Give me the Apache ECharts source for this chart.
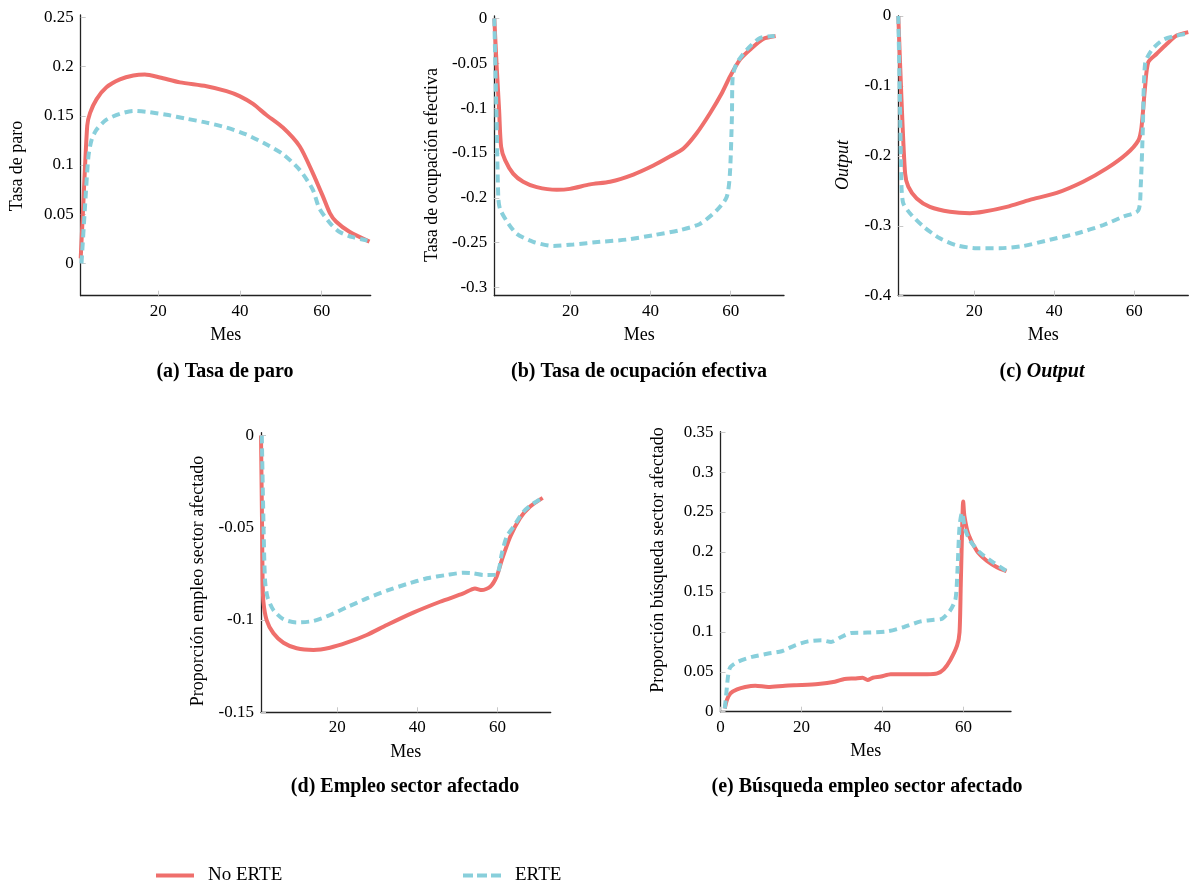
<!DOCTYPE html>
<html><head><meta charset="utf-8">
<script src="https://cdn.jsdelivr.net/npm/echarts@6/dist/echarts.min.js"></script>
<style>html,body{margin:0;padding:0;background:#fff}#c{width:1194px;height:884px}</style>
</head><body><div id="c"></div>
<script>
// ---- tick labels ----
const xTicks = [20, 40, 60];
const xTicksE = [0, 20, 40, 60];
const yTicksA = [0, 0.05, 0.1, 0.15, 0.2, 0.25];
const yTicksB = [-0.3, -0.25, -0.2, -0.15, -0.1, -0.05, 0];
const yTicksC = [-0.4, -0.3, -0.2, -0.1, 0];
const yTicksD = [-0.15, -0.1, -0.05, 0];
const yTicksE = [0, 0.05, 0.1, 0.15, 0.2, 0.25, 0.3, 0.35];

// ---- series: [mes, valor] ----
const aNoErte = [[1,0.005],[1.5,0.048],[2.6,0.14],[3.3,0.153],[4.9,0.167],[7.3,0.179],[10.6,0.187],[13.9,0.191],[16.7,0.192],[20.4,0.189],[25.3,0.184],[31.8,0.18],[36.7,0.175],[39.9,0.17],[43.2,0.162],[46.4,0.151],[50.5,0.138],[54.6,0.119],[57.8,0.092],[60.3,0.068],[62,0.051],[63.5,0.0425],[66.8,0.032],[71.7,0.022]];
const aErte = [[1.2,0],[2.06,0.058],[2.9,0.109],[3.7,0.126],[4.9,0.136],[7.3,0.146],[10.6,0.152],[13.9,0.155],[17.1,0.154],[22,0.151],[26.9,0.147],[31.8,0.143],[36.7,0.138],[41.5,0.131],[46.4,0.121],[50.5,0.111],[54.6,0.095],[57.8,0.075],[59.4,0.056],[61.9,0.0415],[64.3,0.032],[67.6,0.0265],[71.2,0.023]];

const bNoErte = [[1,0],[1.6,-0.054],[2.2,-0.102],[2.7,-0.143],[3.7,-0.158],[5.7,-0.173],[8.2,-0.182],[11.6,-0.188],[16.6,-0.191],[19.9,-0.19],[24.9,-0.185],[29.9,-0.182],[35.7,-0.174],[40.7,-0.164],[44.8,-0.154],[48.2,-0.145],[51.5,-0.128],[54.8,-0.106],[57.7,-0.084],[59.8,-0.065],[62.3,-0.046],[64.8,-0.035],[68.1,-0.023],[71.2,-0.0197]];
const bErte = [[1,0],[1.5,-0.1],[2,-0.2],[2.4,-0.212],[4.1,-0.226],[6.6,-0.24],[10.7,-0.249],[15.7,-0.2535],[20.7,-0.252],[27.4,-0.249],[34,-0.2465],[40.7,-0.2416],[47.3,-0.236],[52.3,-0.229],[56.5,-0.214],[59,-0.199],[59.8,-0.173],[60.3,-0.11],[60.5,-0.065],[61.5,-0.05],[64,-0.035],[67.3,-0.022],[71,-0.0197]];

const cNoErte = [[1,0],[1.8,-0.12],[2.7,-0.225],[3.5,-0.244],[5.6,-0.261],[8.9,-0.273],[13.9,-0.28],[18.9,-0.282],[22.2,-0.28],[28.1,-0.273],[33.9,-0.263],[40.6,-0.253],[47.2,-0.237],[53.1,-0.218],[58.1,-0.197],[61,-0.178],[61.8,-0.159],[62.7,-0.101],[63.5,-0.066],[65.6,-0.054],[68.1,-0.04],[70.6,-0.028],[73.5,-0.023]];
const cErte = [[1,0],[1.4,-0.12],[1.8,-0.244],[2.25,-0.268],[3.9,-0.282],[7.25,-0.301],[11.4,-0.318],[15.6,-0.328],[20.6,-0.332],[26.4,-0.332],[32.2,-0.329],[38.9,-0.32],[45.6,-0.311],[52.2,-0.299],[57.2,-0.287],[61,-0.278],[61.6,-0.244],[62.1,-0.168],[62.7,-0.068],[64.3,-0.049],[67.2,-0.034],[70.6,-0.028],[73.5,-0.025]];

const dNoErte = [[1,0],[1.25,-0.0458],[1.4,-0.0783],[1.6,-0.0901],[2.4,-0.1],[4.1,-0.1072],[6.6,-0.1123],[9.9,-0.1153],[14.1,-0.1162],[18.2,-0.115],[22.4,-0.1123],[27.4,-0.1081],[32.4,-0.1027],[39,-0.096],[45.7,-0.0901],[51.5,-0.0856],[54.4,-0.0829],[56.1,-0.0838],[58.2,-0.082],[59.8,-0.0765],[61.1,-0.0675],[63.2,-0.0549],[65.6,-0.0449],[68.1,-0.0386],[71.3,-0.0338]];
const dErte = [[1.2,0],[1.6,-0.0458],[2,-0.0783],[2.6,-0.0874],[4.1,-0.0946],[6.6,-0.0996],[9.9,-0.1013],[14.1,-0.1005],[18.2,-0.0973],[22.4,-0.0931],[27.4,-0.0883],[32.4,-0.0841],[37.4,-0.0805],[42.4,-0.0774],[47.3,-0.0756],[51.5,-0.0744],[54,-0.0747],[56.5,-0.0756],[59.8,-0.0753],[61.1,-0.0639],[62.3,-0.0549],[64,-0.0495],[66.5,-0.0413],[69,-0.0368],[71.3,-0.0338]];

const eNoErte = [[1.06,0.004],[1.6,0.015],[2.45,0.023],[4.1,0.028],[6.1,0.031],[8.6,0.0326],[11.8,0.031],[15.9,0.0326],[20,0.0334],[24.1,0.0347],[28.2,0.0376],[30.6,0.041],[33.1,0.0417],[35.1,0.0425],[36.3,0.0396],[37.6,0.0425],[39.6,0.044],[42,0.047],[46.1,0.047],[51,0.047],[53.5,0.048],[55.1,0.053],[56.7,0.0645],[58.4,0.083],[59,0.0997],[59.3,0.158],[59.7,0.241],[59.9,0.263],[60.2,0.245],[61.2,0.222],[63.3,0.201],[65.7,0.189],[68.2,0.181],[70.6,0.176]];
const eErte = [[1.06,0.004],[1.4,0.021],[1.9,0.046],[2.45,0.056],[4.5,0.063],[7.8,0.0686],[11.8,0.0728],[15.1,0.0757],[18.4,0.083],[21.6,0.088],[24.9,0.0894],[27.3,0.0873],[29.8,0.0935],[32.2,0.0985],[36.3,0.099],[41.2,0.1006],[45.3,0.106],[49.4,0.113],[52.7,0.115],[54.7,0.1164],[56.7,0.1267],[58,0.141],[58.5,0.178],[59,0.232],[59.6,0.249],[60.4,0.228],[61.6,0.214],[64.1,0.199],[67.3,0.187],[70.6,0.176]];

// ---- styling ----
const FONT = 'Liberation Serif';
const RED = '#EF6F6C';
const CYAN = '#88CFDB';
const TICKFS = 17;

const panels = [
  {grid:{left:80.7, top:15, width:290, height:280.7}, x:[1,72], xt:xTicks, y:[-0.033,0.2525], yt:yTicksA, red:aNoErte, blue:aErte,
   yname:'Tasa de paro', ynx:17, yny:166, italic:false,
   title:'{n|(a) Tasa de paro}', tx:225, ty:362},
  {grid:{left:494.3, top:16, width:289.7, height:279.7}, x:[1,73.3], xt:xTicks, y:[-0.309,0.0026], yt:yTicksB, red:bNoErte, blue:bErte,
   yname:'Tasa de ocupación efectiva', ynx:432, yny:165, italic:false,
   title:'{n|(b) Tasa de ocupación efectiva}', tx:639, ty:362},
  {grid:{left:898.3, top:16, width:290, height:279.7}, x:[1,73.5], xt:xTicks, y:[-0.4,0], yt:yTicksC, red:cNoErte, blue:cErte,
   yname:'Output', ynx:843, yny:165, italic:true,
   title:'{n|(c) }{i|Output}', tx:1042, ty:362},
  {grid:{left:261, top:432.7, width:289.7, height:279.6}, x:[1,73.3], xt:xTicks, y:[-0.15,0.0015], yt:yTicksD, red:dNoErte, blue:dErte,
   yname:'Proporción empleo sector afectado', ynx:198, yny:581, italic:false,
   title:'{n|(d) Empleo sector afectado}', tx:405, ty:777},
  {grid:{left:720.5, top:431.7, width:290.5, height:280}, x:[0,71.7], xt:xTicksE, y:[0,0.3505], yt:yTicksE, red:eNoErte, blue:eErte,
   yname:'Proporción búsqueda sector afectado', ynx:658, yny:560, italic:false,
   title:'{n|(e) Búsqueda empleo sector afectado}', tx:867, ty:777}
];

const axisLineStyle = {color:'#222', width:1.3};
const tickStyle = {show:true, inside:true, length:5, lineStyle:{color:'#c8c8c8', width:1}};

const option = {
  backgroundColor:'#fff',
  animation:false,
  textStyle:{fontFamily:FONT},
  grid: panels.map(p => Object.assign({containLabel:false}, p.grid)),
  xAxis: panels.map((p,i) => ({
    type:'value', gridIndex:i, min:p.x[0], max:p.x[1],
    name:'Mes', nameLocation:'middle', nameGap:31,
    nameTextStyle:{fontFamily:FONT, fontSize:18, color:'#000'},
    axisLine:{show:true, onZero:false, lineStyle:axisLineStyle},
    axisTick:Object.assign({customValues:p.xt}, tickStyle),
    axisLabel:{customValues:p.xt, fontFamily:FONT, fontSize:TICKFS, color:'#000', margin:7},
    splitLine:{show:false}
  })),
  yAxis: panels.map((p,i) => ({
    type:'value', gridIndex:i, min:p.y[0], max:p.y[1],
    axisLine:{show:true, onZero:false, lineStyle:axisLineStyle},
    axisTick:Object.assign({customValues:p.yt}, tickStyle),
    axisLabel:{customValues:p.yt, fontFamily:FONT, fontSize:TICKFS, color:'#000', margin:7,
               formatter: v => String(v)},
    splitLine:{show:false}
  })),
  series: panels.flatMap((p,i) => [
    {name:'No ERTE', type:'line', xAxisIndex:i, yAxisIndex:i, data:p.red, symbol:'none', smooth:0.25,
     lineStyle:{color:RED, width:4}, itemStyle:{color:RED}, z:2},
    {name:'ERTE', type:'line', xAxisIndex:i, yAxisIndex:i, data:p.blue, symbol:'none', smooth:0.25,
     lineStyle:{color:CYAN, width:4, type:[8,5]}, itemStyle:{color:CYAN}, z:3}
  ]),
  title: panels.map(p => ({
    text:p.title, left:p.tx, top:p.ty, textAlign:'center', padding:0,
    textStyle:{fontFamily:FONT, rich:{
      n:{fontFamily:FONT, fontSize:20, fontWeight:'bold', color:'#000'},
      i:{fontFamily:FONT, fontSize:20, fontWeight:'bold', fontStyle:'italic', color:'#000'}
    }}
  })),
  legend: [
    {data:[{name:'No ERTE', icon:'path://M0,0h38v4h-38z'}], left:156, top:866, itemWidth:38, itemHeight:4, padding:0,
     itemStyle:{color:RED, borderWidth:0}, lineStyle:{width:0},
     textStyle:{fontFamily:FONT, fontSize:19, color:'#000', padding:[0,0,0,9]}},
    {data:[{name:'ERTE', icon:'path://M0,0h10v4h-10z M14,0h10v4h-10z M28,0h10v4h-10z'}], left:463, top:866, itemWidth:38, itemHeight:4, padding:0,
     itemStyle:{color:CYAN, borderWidth:0}, lineStyle:{width:0},
     textStyle:{fontFamily:FONT, fontSize:19, color:'#000', padding:[0,0,0,9]}}
  ],
  graphic: panels.map(p => ({
    type:'text', x:p.ynx, y:p.yny, rotation:Math.PI/2,
    style:{text:p.yname, fontFamily:FONT, fontSize:18, fontStyle:p.italic?'italic':'normal',
           fill:'#000', textAlign:'center', textVerticalAlign:'middle'}
  }))
};

const chart = echarts.init(document.getElementById('c'), null, {renderer:'canvas'});
chart.setOption(option);
</script>
</body></html>
